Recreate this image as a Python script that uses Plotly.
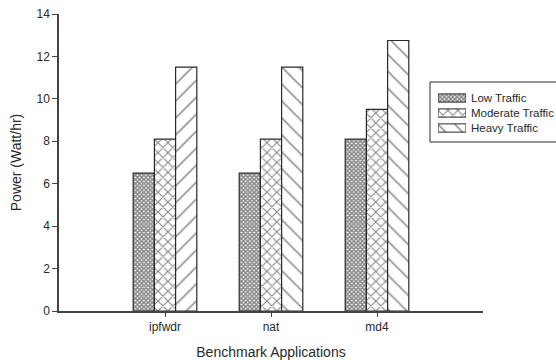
import plotly.graph_objects as go

# Benchmark power measurements (Watt/hr)
apps = ["ipfwdr", "nat", "md4"]
series_names = ["Low Traffic", "Moderate Traffic", "Heavy Traffic"]
low_traffic = [6.5, 6.5, 8.1]
moderate_traffic = [8.1, 8.1, 9.5]
heavy_traffic = [11.5, 11.5, 12.75]
y_ticks = [0, 2, 4, 6, 8, 10, 12, 14]

FONT = "Liberation Sans, Arial, sans-serif"
INK = "#2a2a2a"
AXIS = "#444444"

# fill patterns: (shape(s), size, solidity)
patterns = [
    dict(shape="x", size=3, solidity=0.75),
    dict(shape="x", size=7, solidity=0.3),
    dict(shape=["/", "\\", "\\"], size=12, solidity=0.13),
]
series_values = [low_traffic, moderate_traffic, heavy_traffic]

fig = go.Figure()
for name, vals, pat in zip(series_names, series_values, patterns):
    fig.add_trace(go.Bar(
        x=apps, y=vals, name=name, showlegend=False,
        marker=dict(
            color="white",
            line=dict(color=INK, width=1.2),
            pattern=dict(fgcolor="#111111", bgcolor="white",
                         fillmode="overlay", **pat),
        ),
    ))

# legend swatches drawn as short horizontal bars on an inset axis
legend_shapes = ["x", "x", "\\"]
for i, (name, pat) in enumerate(zip(series_names, patterns)):
    fig.add_trace(go.Bar(
        x=[1], y=[i], orientation="h", width=0.55, showlegend=False,
        xaxis="x2", yaxis="y2", hoverinfo="skip",
        marker=dict(
            color="white",
            line=dict(color=INK, width=1),
            pattern=dict(fgcolor="#111111", bgcolor="white", fillmode="overlay",
                         shape=legend_shapes[i], size=pat["size"],
                         solidity=pat["solidity"]),
        ),
    ))
    fig.add_annotation(
        x=1, y=i, xref="x2", yref="y2", text=name, showarrow=False,
        xanchor="left", xshift=3, font=dict(family=FONT, size=11.5, color=INK),
    )

# legend frame
fig.add_shape(type="rect", xref="paper", yref="paper",
              x0=0.875, x1=1.4, y0=0.569, y1=0.771,
              line=dict(color=INK, width=1), fillcolor="rgba(0,0,0,0)", layer="below")

fig.update_layout(
    width=556, height=360,
    margin=dict(l=59, r=73, t=14, b=49, autoexpand=False),
    paper_bgcolor="white", plot_bgcolor="white",
    barmode="group", bargap=0.4, bargroupgap=0,
    font=dict(family=FONT, size=12, color=INK),
    xaxis=dict(
        type="category", range=[-1, 3], automargin=False,
        showline=True, linecolor=AXIS, linewidth=1.5,
        ticks="outside", ticklen=4, tickcolor=AXIS,
        showgrid=False, zeroline=False,
        title=dict(text="Benchmark Applications", font=dict(size=14), standoff=14),
    ),
    yaxis=dict(
        range=[0, 14], tickvals=y_ticks, automargin=False,
        showline=True, linecolor=AXIS, linewidth=1.5,
        ticks="outside", ticklen=5, tickcolor=AXIS,
        showgrid=False, zeroline=False,
        title=dict(text="Power (Watt/hr)", font=dict(size=14), standoff=12),
    ),
    xaxis2=dict(domain=[0.8939, 0.9599], range=[0, 1], visible=False,
                anchor="y2", fixedrange=True),
    yaxis2=dict(domain=[0.5909, 0.7424], range=[2.5, -0.5], visible=False,
                anchor="x2", fixedrange=True),
)

fig.write_html("out.html")
